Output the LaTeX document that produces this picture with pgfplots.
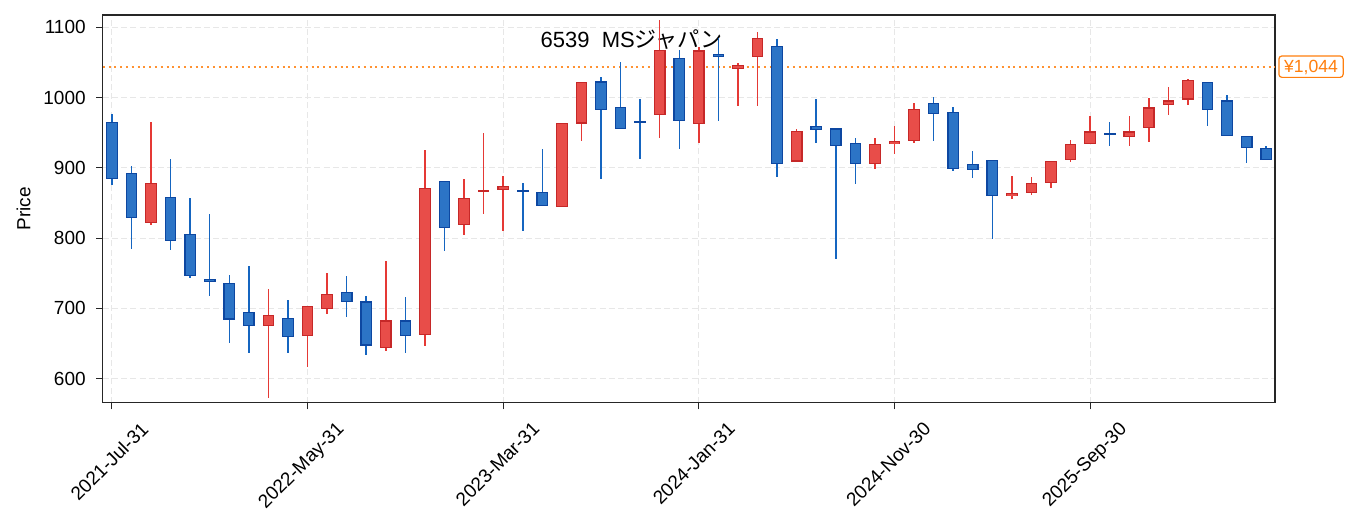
\documentclass[border=0pt]{standalone}
\usepackage{fontspec}
\setmainfont{Liberation Sans}
\newfontfamily\cjk{Noto Sans CJK JP}
\usepackage{pgfplots}
\usepackage{pgfplotstable}
\pgfplotsset{compat=1.18}

\definecolor{upfill}{RGB}{232,77,73}
\definecolor{upedge}{RGB}{198,40,40}
\definecolor{upwick}{RGB}{229,57,53}
\definecolor{dnfill}{RGB}{44,116,198}
\definecolor{dnedge}{RGB}{13,71,161}
\definecolor{dnwick}{RGB}{21,101,192}
\definecolor{gridc}{RGB}{231,231,231}
\definecolor{refor}{RGB}{255,127,14}
\definecolor{axc}{RGB}{38,38,38}

% rising months (close > open)
\pgfplotstableread{
x o h l c
2 821 965 818 879
8 675 728 572 691
10 661 704 617 704
11 699 750 692 721
14 644 767 640 683
16 662 925 646 872
18 818 884 805 857
19 866 949 835 868
20 868 888 810 874
23 844 964 844 964
24 963 1022 938 1022
28 975 1111 943 1068
30 962 1072 936 1067
32 1040 1049 988 1046
33 1058 1094 988 1085
35 909 955 908 953
39 905 943 899 934
40 934 959 920 938
41 938 992 935 984
46 860 888 856 864
47 864 887 861 879
48 878 910 872 910
49 911 940 909 934
50 934 974 934 952
52 944 974 931 952
53 956 999 937 986
54 989 1015 975 996
55 997 1027 990 1025
}\upcandles

% falling months (close < open)
\pgfplotstableread{
x o h l c
0 965 977 876 884
1 893 902 785 829
3 859 912 783 796
4 806 857 743 746
5 742 835 718 738
6 736 747 651 684
7 695 760 636 675
9 687 712 636 659
12 724 746 688 709
13 710 718 634 647
15 683 716 637 661
17 882 882 782 814
21 868 878 810 866
22 866 927 846 846
25 1023 1029 884 982
26 987 1050 955 955
27 966 998 913 965
29 1056 1068 927 966
31 1062 1085 966 1058
34 1074 1083 887 905
36 960 998 935 954
37 956 956 770 931
38 936 942 877 905
42 992 1001 938 976
43 980 986 896 898
44 906 924 886 897
45 911 911 799 860
51 949 965 931 947
56 1022 1022 960 982
57 996 1004 945 945
58 946 946 907 928
59 928 931 911 911
}\dncandles

\pgfplotsset{
  wick/.style={draw=none, mark=none, forget plot,
    error bars/.cd, y dir=both, y explicit, error mark=none,
    error bar style={draw=#1, solid, line width=0.75pt}},
  body/.style 2 args={draw=none, mark=none, forget plot,
    error bars/.cd, y dir=both, y explicit, error mark=none,
    error bar style={draw=#1, solid, line width=#2}},
}

\begin{document}
\begin{tikzpicture}
\begin{axis}[
  at={(0,0)}, anchor=south west,
  scale only axis, width=586.15pt, height=193.85pt,
  xmin=-0.47, xmax=59.45, ymin=565.8, ymax=1117.5,
  axis line style={draw=axc, line width=0.6pt},
  tick style={draw=axc, line width=0.5pt},
  tick align=outside, major tick length=3.3pt,
  xtick pos=bottom, ytick pos=left,
  xtick={0,10,20,30,40,50},
  xticklabels={2021-Jul-31,2022-May-31,2023-Mar-31,2024-Jan-31,2024-Nov-30,2025-Sep-30},
  ytick={600,700,800,900,1000,1100},
  /pgf/number format/assume math mode=true,
  /pgf/number format/set thousands separator={},
  tick label style={font=\fontsize{9.5}{11}\selectfont, text=black},
  xticklabel style={xshift=14pt, yshift=-5.5pt, rotate=45, anchor=north east, inner sep=0pt},
  yticklabel style={anchor=east, inner sep=0pt, xshift=-5pt},
  grid=major,
  major grid style={draw=gridc, line width=0.5pt, dash pattern=on 3pt off 1.6pt},
  ylabel={Price},
  every axis y label/.style={at={(axis description cs:-0.0674,0.5)}, rotate=90, anchor=center, font=\fontsize{9.5}{11}\selectfont},
  clip mode=individual,
]
\node[font=\fontsize{11}{13}\selectfont, anchor=center, inner sep=0pt] at (axis description cs:0.4513,0.9368) {6539\ \ MS{\cjk ジャパン}};

\addplot[refor!85!white, line width=1pt, dash pattern=on 1pt off 1.9pt, forget plot] coordinates {(-0.47,1044) (59.45,1044)};

% wicks
\addplot[wick=upwick] table[x=x, y expr={(\thisrow{h}+\thisrow{l})/2}, y error expr={(\thisrow{h}-\thisrow{l})/2}] {\upcandles};
\addplot[wick=dnwick] table[x=x, y expr={(\thisrow{h}+\thisrow{l})/2}, y error expr={(\thisrow{h}-\thisrow{l})/2}] {\dncandles};
% bodies: edge then fill
\addplot[body={upedge}{5.85pt}] table[x=x, y expr={(\thisrow{o}+\thisrow{c})/2}, y error expr={abs(\thisrow{c}-\thisrow{o})/2}] {\upcandles};
\addplot[body={upfill}{4.65pt}] table[x=x, y expr={(\thisrow{o}+\thisrow{c})/2}, y error expr={max(abs(\thisrow{c}-\thisrow{o})/2-1.71,0)}] {\upcandles};
\addplot[body={dnedge}{5.85pt}] table[x=x, y expr={(\thisrow{o}+\thisrow{c})/2}, y error expr={abs(\thisrow{c}-\thisrow{o})/2}] {\dncandles};
\addplot[body={dnfill}{4.65pt}] table[x=x, y expr={(\thisrow{o}+\thisrow{c})/2}, y error expr={max(abs(\thisrow{c}-\thisrow{o})/2-1.71,0)}] {\dncandles};

\node[anchor=west, xshift=1.65pt, draw=refor, line width=0.6pt, fill=white, rounded corners=1.5pt,
      text=refor, font=\fontsize{8.8}{10}\selectfont, inner xsep=2.6pt, inner ysep=2.2pt,
      text height=6.3pt, text depth=0pt] at (axis cs:59.45,1044) {¥1,044};
\end{axis}
\pgfresetboundingbox
\path[use as bounding box] (-51.35pt,-64.15pt) rectangle (625.15pt,201.35pt);
\end{tikzpicture}
\end{document}
